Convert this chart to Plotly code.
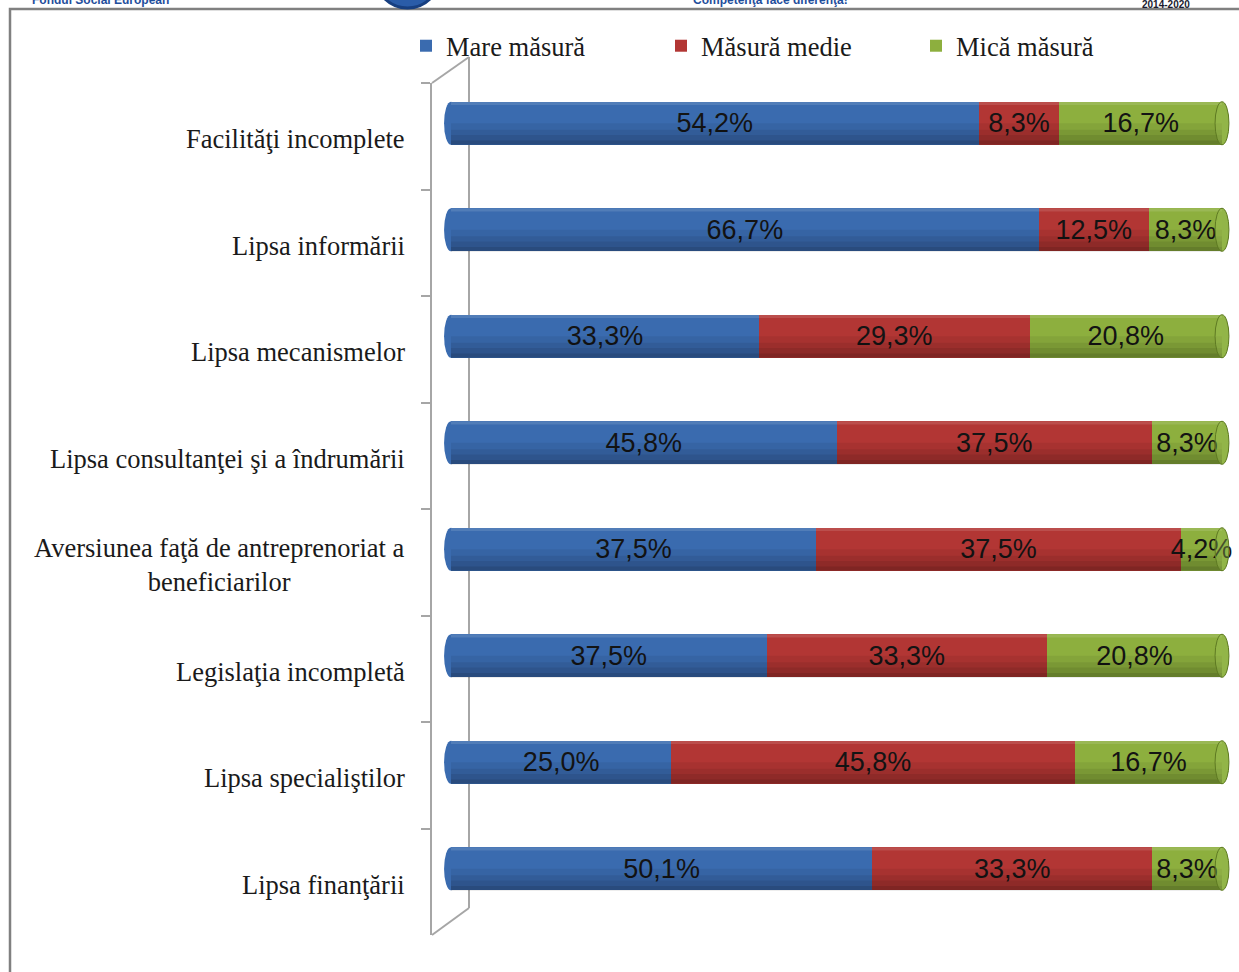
import plotly.graph_objects as go

categories = [
    "Facilităţi incomplete",
    "Lipsa informării",
    "Lipsa mecanismelor",
    "Lipsa consultanţei şi a îndrumării",
    "Aversiunea faţă de antreprenoriat a<br>beneficiarilor",
    "Legislaţia incompletă",
    "Lipsa specialiştilor",
    "Lipsa finanţării",
]
mare = [54.2, 66.7, 33.3, 45.8, 37.5, 37.5, 25.0, 50.1]
medie = [8.3, 12.5, 29.3, 37.5, 37.5, 33.3, 45.8, 33.3]
mica = [16.7, 8.3, 20.8, 8.3, 4.2, 20.8, 16.7, 8.3]

series = [
    ("Mare măsură", mare, "#3A6BAF"),
    ("Măsură medie", medie, "#B23634"),
    ("Mică măsură", mica, "#8DAF3E"),
]

W, H = 1239, 972
L, R, T, B = 432, 7, 83, 37
PW, PH = W - L - R, H - T - B

def px_x(p):
    return (p - L) / PW

def px_y(p):
    return (H - B - p) / PH

BAR_W = 0.404
SHIFT = -0.122
OFFSET = SHIFT - BAR_W / 2

label_font = "Liberation Sans Narrow, Arial Narrow, Liberation Sans, Arial, sans-serif"
serif = "Liberation Serif, Times New Roman, serif"

fig = go.Figure()
for name, vals, col in series:
    fig.add_trace(go.Bar(
        y=categories, x=vals, name=name, orientation="h",
        marker=dict(color=col, line=dict(width=0)),
        width=BAR_W, offset=OFFSET,
        text=[f"{v:.1f}%".replace(".", ",") for v in vals],
        textposition="inside", insidetextanchor="middle", textangle=0,
        insidetextfont=dict(family=label_font, size=27, color="#141414"),
        cliponaxis=False,
    ))

shapes = []
# outer page border
shapes.append(dict(type="rect", xref="paper", yref="paper",
                   x0=px_x(10), x1=px_x(1250), y0=px_y(990), y1=px_y(9),
                   line=dict(color="#808080", width=2.5), fillcolor="rgba(0,0,0,0)", layer="below"))
# 3D wall
wall = dict(color="#A6A6A6", width=2)
shapes.append(dict(type="line", xref="paper", yref="paper", x0=0, y0=1,
                   x1=px_x(469), y1=px_y(57), line=wall, layer="below"))
shapes.append(dict(type="line", xref="paper", yref="paper", x0=px_x(469), y0=px_y(57),
                   x1=px_x(469), y1=px_y(908), line=wall, layer="below"))
shapes.append(dict(type="line", xref="paper", yref="paper", x0=0, y0=0,
                   x1=px_x(469), y1=px_y(908), line=wall, layer="below"))

cap_w = 0.9
for i in range(len(categories)):
    c = i + SHIFT
    top, bot = c - BAR_W / 2, c + BAR_W / 2
    # left rounded end
    shapes.append(dict(type="circle", xref="x", yref="y", x0=-cap_w, x1=cap_w, y0=top, y1=bot,
                       fillcolor=series[0][2], line=dict(width=0), layer="below"))
    # right cap (face behind, outline above)
    shapes.append(dict(type="circle", xref="x", yref="y", x0=100 - cap_w, x1=100 + cap_w, y0=top, y1=bot,
                       fillcolor="#8AAE40", line=dict(width=0), layer="below"))
    # shading (cylinder look)
    for frac, a in [(0.0, 0.06), (0.3, 0.07), (0.55, 0.08), (0.8, 0.10)]:
        shapes.append(dict(type="rect", xref="x", yref="y", x0=0, x1=100,
                           y0=c + frac * BAR_W / 2, y1=bot,
                           fillcolor=f"rgba(0,0,0,{a})", line=dict(width=0), layer="above"))
    shapes.append(dict(type="rect", xref="x", yref="y", x0=0, x1=100,
                       y0=top, y1=top + 0.03,
                       fillcolor="rgba(255,255,255,0.12)", line=dict(width=0), layer="above"))
    shapes.append(dict(type="circle", xref="x", yref="y", x0=100 - cap_w, x1=100 + cap_w, y0=top, y1=bot,
                       fillcolor="rgba(160,195,90,0.35)", line=dict(color="#5E7A22", width=1), layer="above"))

# header logo fragment
shapes.append(dict(type="circle", xref="paper", yref="paper",
                   x0=px_x(375), x1=px_x(440), y0=px_y(8), y1=px_y(-57),
                   fillcolor="#2A5CA8", line=dict(color="#173F80", width=3), layer="below"))

annotations = []
for i, cat in enumerate(categories):
    annotations.append(dict(xref="paper", yref="y", x=0, xshift=-25, y=i, yshift=-3,
                            text=cat, showarrow=False, xanchor="right", yanchor="middle",
                            align="center", font=dict(family=serif, size=26.5, color="#1a1a1a")))

annotations += [
    dict(xref="paper", yref="paper", x=px_x(30), y=px_y(9), text="<b>Fondul Social European</b>",
         showarrow=False, xanchor="left", yanchor="bottom",
         font=dict(family="Liberation Sans, Arial, sans-serif", size=12, color="#1F4E9C")),
    dict(xref="paper", yref="paper", x=px_x(770), y=px_y(9), text="<b>Competenţa face diferenţa!</b>",
         showarrow=False, xanchor="center", yanchor="bottom",
         font=dict(family="Liberation Sans, Arial, sans-serif", size=12, color="#1F4E9C")),
    dict(xref="paper", yref="paper", x=px_x(1166), y=px_y(12), text="<b>2014-2020</b>",
         showarrow=False, xanchor="center", yanchor="bottom",
         font=dict(family="Liberation Sans, Arial, sans-serif", size=10, color="#1a1a2e")),
]

fig.update_layout(
    width=W, height=H,
    margin=dict(l=L, r=R, t=T, b=B),
    paper_bgcolor="white", plot_bgcolor="white",
    barmode="stack", barnorm="percent",
    uniformtext=dict(minsize=27, mode="show"),
    showlegend=True,
    legend=dict(orientation="h", x=px_x(406), y=px_y(46), xanchor="left", yanchor="middle",
                entrywidth=210, entrywidthmode="pixels",
                font=dict(family=serif, size=26.5, color="#1a1a1a"),
                traceorder="normal", bgcolor="rgba(0,0,0,0)"),
    xaxis=dict(range=[-(451 - L) / 7.71, 100 + (1232 - 1222) / 7.71], visible=False, fixedrange=True),
    yaxis=dict(type="category", categoryorder="array", categoryarray=categories,
               range=[len(categories) - 0.5, -0.5], showticklabels=False,
               showline=True, linecolor="#A6A6A6", linewidth=2,
               ticks="outside", tickson="boundaries", ticklen=9, tickcolor="#A6A6A6", tickwidth=2,
               showgrid=False, zeroline=False, fixedrange=True),
    shapes=shapes,
    annotations=annotations,
)

fig.write_html("out.html", config={"displayModeBar": False},
               post_script="document.body.style.margin='0px';")
